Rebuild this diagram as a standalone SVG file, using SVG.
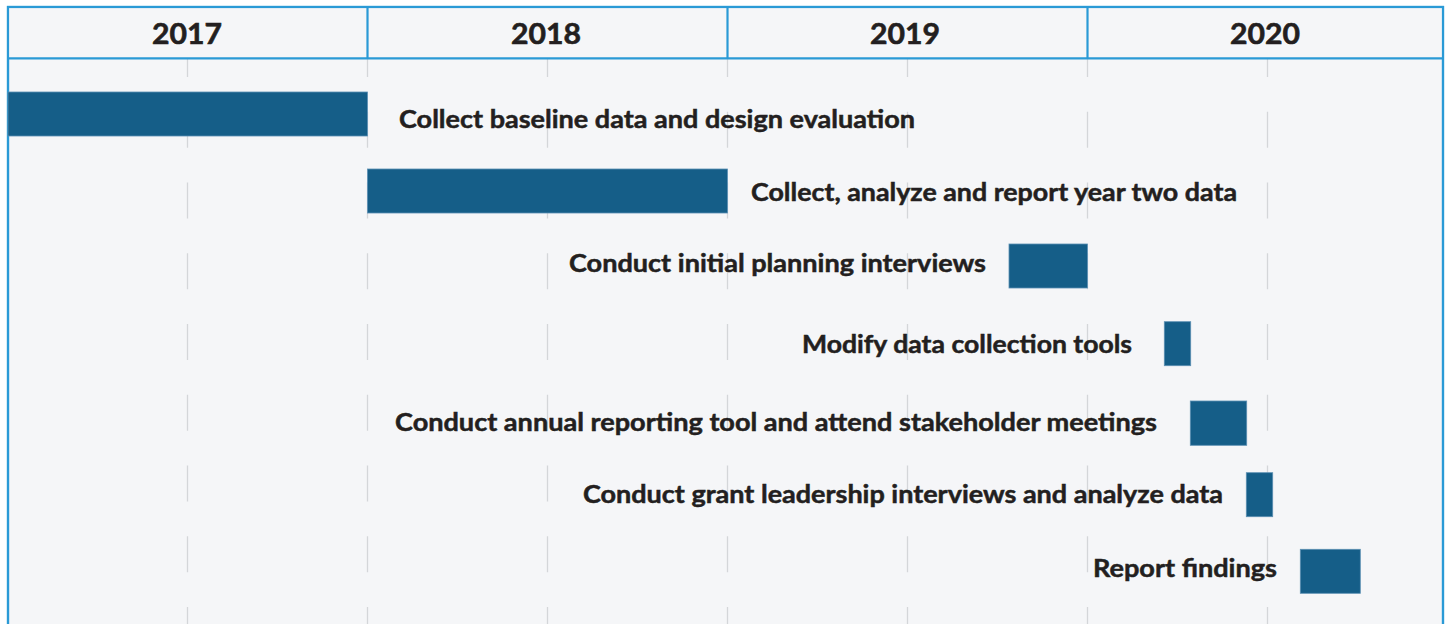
<svg xmlns="http://www.w3.org/2000/svg" width="1447" height="624" viewBox="0 0 1447 624">
<style>
.frame{fill:#f5f6f8;stroke:#2a9ad6;stroke-width:2.2}
.hdr{stroke:#2a9ad6;stroke-width:2.2;fill:none}
.grid{stroke:#d4d6d9;stroke-width:1.3;stroke-dasharray:36 34.75}
.bar{fill:#155e88;stroke:#5b8fb3;stroke-width:0.8}
.yr{font-family:Lato,"Open Sans",sans-serif;font-weight:700;font-size:29px;fill:#231f20;stroke:#231f20;stroke-width:0.6;text-anchor:middle}
.lbl{font-family:Lato,"Open Sans",sans-serif;font-weight:700;font-size:25px;fill:#231f20;stroke:#231f20;stroke-width:0.5}
</style>
<rect x="0" y="0" width="1447" height="624" fill="#ffffff"/>
<rect class="frame" x="8" y="7" width="1435" height="640"/>
<g id="grid">
<line class="grid" x1="187.5" y1="41" x2="187.5" y2="624"/>
<line class="grid" x1="367.5" y1="41" x2="367.5" y2="624"/>
<line class="grid" x1="547.5" y1="41" x2="547.5" y2="624"/>
<line class="grid" x1="727.5" y1="41" x2="727.5" y2="624"/>
<line class="grid" x1="907.5" y1="41" x2="907.5" y2="624"/>
<line class="grid" x1="1087.5" y1="41" x2="1087.5" y2="624"/>
<line class="grid" x1="1267.5" y1="41" x2="1267.5" y2="624"/>
</g>
<g id="header">
<rect x="9" y="8" width="1433" height="50" fill="#f5f6f8"/>
<line class="hdr" x1="8" y1="58.3" x2="1443" y2="58.3"/>
<line class="hdr" x1="367.5" y1="7" x2="367.5" y2="58"/>
<line class="hdr" x1="727.5" y1="7" x2="727.5" y2="58"/>
<line class="hdr" x1="1087.5" y1="7" x2="1087.5" y2="58"/>
<rect x="8" y="7" width="1435" height="640" fill="none" stroke="#2a9ad6" stroke-width="2.2"/>
<text class="yr" x="187" y="44" textLength="70" lengthAdjust="spacingAndGlyphs">2017</text>
<text class="yr" x="546" y="44" textLength="70" lengthAdjust="spacingAndGlyphs">2018</text>
<text class="yr" x="905" y="44" textLength="70" lengthAdjust="spacingAndGlyphs">2019</text>
<text class="yr" x="1265" y="44" textLength="70" lengthAdjust="spacingAndGlyphs">2020</text>
</g>
<g id="task1">
<rect class="bar" x="8" y="92" width="359.5" height="44"/>
<text class="lbl" x="399" y="128" textLength="516" lengthAdjust="spacingAndGlyphs">Collect baseline data and design evaluation</text>
</g>
<g id="task2">
<rect class="bar" x="367.5" y="169" width="360" height="44"/>
<text class="lbl" x="751" y="200.5" textLength="486" lengthAdjust="spacingAndGlyphs">Collect, analyze and report year two data</text>
</g>
<g id="task3">
<rect class="bar" x="1009" y="244" width="78.5" height="44"/>
<text class="lbl" x="569" y="272" textLength="417" lengthAdjust="spacingAndGlyphs">Conduct initial planning interviews</text>
</g>
<g id="task4">
<rect class="bar" x="1164.3" y="321.7" width="26.4" height="44"/>
<text class="lbl" x="802" y="353" textLength="330" lengthAdjust="spacingAndGlyphs">Modify data collection tools</text>
</g>
<g id="task5">
<rect class="bar" x="1190.3" y="401" width="56.4" height="44.3"/>
<text class="lbl" x="395" y="431" textLength="762" lengthAdjust="spacingAndGlyphs">Conduct annual reporting tool and attend stakeholder meetings</text>
</g>
<g id="task6">
<rect class="bar" x="1246.3" y="472.7" width="26.4" height="44"/>
<text class="lbl" x="583" y="503" textLength="640" lengthAdjust="spacingAndGlyphs">Conduct grant leadership interviews and analyze data</text>
</g>
<g id="task7">
<rect class="bar" x="1300.3" y="549.3" width="60" height="44"/>
<text class="lbl" x="1093" y="577" textLength="184" lengthAdjust="spacingAndGlyphs">Report findings</text>
</g>
</svg>
